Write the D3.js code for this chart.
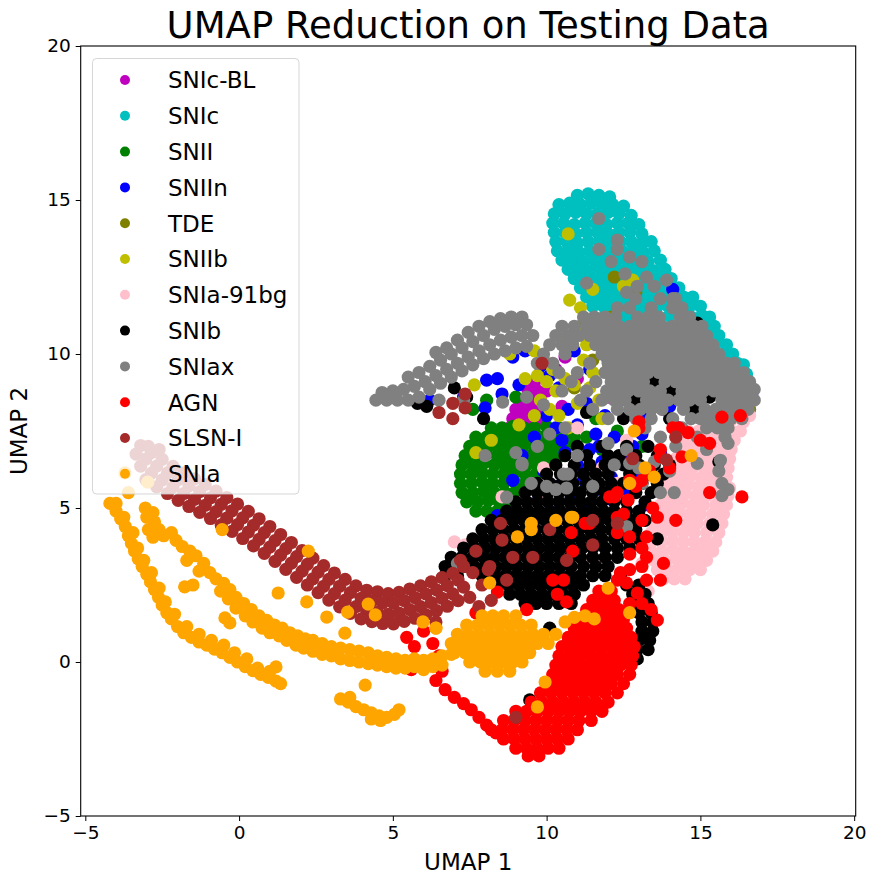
<!DOCTYPE html>
<html>
<head>
<meta charset="utf-8">
<script src="https://cdn.jsdelivr.net/npm/d3@7"></script>
<style>
body { margin: 0; background: #fff; }
text { font-family: "DejaVu Sans", sans-serif; }
</style>
</head>
<body>
<div id="chart"></div>
<script>
// class names in plotting order (later classes are drawn on top)
var classNames = ["SNIc-BL", "SNIc", "SNII", "SNIIn", "TDE", "SNIIb", "SNIa-91bg", "SNIb", "SNIax", "AGN", "SLSN-I", "SNIa"];
var classColors = ["#bf00bf", "#00bfbf", "#008000", "#0000ff", "#808000", "#bfbf00", "#ffc0cb", "#000000", "#808080", "#ff0000", "#a52a2a", "#ffa500"];

var xTicks = [-5, 0, 5, 10, 15, 20];
var yTicks = [-5, 0, 5, 10, 15, 20];

// embedding coordinates, flat [x, y, x, y, ...]
var snIcBL = [8.8,7.6, 9.1,7.5, 9.4,7.6, 8.9,7.9, 9.2,7.9, 9.5,7.9, 9.8,7.8, 9.0,8.2, 9.3,8.2, 9.6,8.2, 9.9,8.1,
  9.2,8.5, 9.5,8.5, 9.8,8.5, 9.4,8.8, 9.7,8.8, 10.0,8.8, 9.6,9.1, 9.9,9.2, 10.3,9.5, 10.6,9.9, 11.4,10.8, 11.6,11.0,
  11.8,10.6, 12.5,10.2, 13.2,9.8, 14.5,9.3, 15.5,9.0, 16.3,8.9, 16.5,8.5, 13.8,8.2, 12.0,8.6, 11.0,9.2, 10.2,7.4, 10.5,8.3];

var snIc = [11.0,15.15, 11.35,15.2, 11.7,15.15, 12.05,15.1,
  10.4,14.85, 10.75,14.9, 11.1,14.85, 11.45,14.9, 11.8,14.85, 12.15,14.85, 12.5,14.8,
  10.25,14.55, 10.6,14.55, 10.95,14.6, 11.3,14.55, 11.65,14.55, 12.0,14.6, 12.35,14.55, 12.75,14.5,
  10.2,14.25, 10.55,14.25, 10.9,14.2, 11.25,14.25, 11.6,14.25, 11.95,14.2, 12.3,14.25, 12.65,14.25, 13.0,14.2,
  10.25,13.95, 10.6,13.95, 10.95,13.9, 11.3,13.95, 11.65,13.95, 12.0,13.9, 12.35,13.95, 12.7,13.95, 13.1,13.9,
  10.3,13.65, 10.65,13.65, 11.0,13.6, 11.35,13.65, 11.7,13.65, 12.05,13.6, 12.4,13.65, 12.75,13.65, 13.1,13.6, 13.4,13.65,
  10.35,13.35, 10.7,13.35, 11.05,13.3, 11.4,13.35, 11.75,13.35, 12.1,13.3, 12.45,13.35, 12.8,13.35, 13.15,13.3, 13.5,13.35,
  10.5,13.05, 10.85,13.05, 11.2,13.0, 11.55,13.05, 11.9,13.05, 12.25,13.0, 12.6,13.05, 12.95,13.05, 13.3,13.0, 13.7,13.05,
  10.7,12.75, 11.05,12.75, 11.4,12.7, 11.75,12.75, 12.1,12.75, 12.45,12.7, 12.8,12.75, 13.15,12.75, 13.5,12.7, 13.85,12.75,
  10.9,12.45, 11.25,12.45, 11.6,12.4, 11.95,12.45, 12.3,12.45, 12.65,12.4, 13.0,12.45, 13.35,12.45, 13.7,12.4, 14.05,12.45,
  11.1,12.15, 11.45,12.15, 11.8,12.1, 12.15,12.15, 12.5,12.15, 12.85,12.1, 13.2,12.15, 13.55,12.15, 13.9,12.1, 14.3,12.15,
  11.3,11.85, 11.65,11.85, 12.0,11.8, 12.35,11.85, 12.7,11.85, 13.05,11.8, 13.4,11.85, 13.75,11.85, 14.1,11.8, 14.45,11.85, 14.75,11.85,
  11.5,11.55, 11.85,11.55, 12.2,11.5, 12.55,11.55, 12.9,11.55, 13.25,11.5, 13.6,11.55, 13.95,11.55, 14.3,11.5, 14.65,11.55, 15.0,11.55,
  11.9,11.25, 12.25,11.25, 12.6,11.2, 12.95,11.25, 13.3,11.25, 13.65,11.2, 14.0,11.25, 14.35,11.25, 14.7,11.2, 15.05,11.25, 15.3,11.2,
  12.3,10.95, 12.65,10.95, 13.0,10.9, 13.35,10.95, 13.7,10.95, 14.05,10.9, 14.4,10.95, 14.75,10.95, 15.1,10.9, 15.45,10.9,
  12.8,10.65, 13.15,10.65, 13.5,10.6, 13.85,10.65, 14.2,10.65, 14.55,10.6, 14.9,10.65, 15.25,10.65, 15.6,10.6,
  13.4,10.35, 13.75,10.35, 14.1,10.3, 14.45,10.35, 14.8,10.35, 15.15,10.3, 15.5,10.35, 15.85,10.3,
  14.0,10.05, 14.35,10.05, 14.7,10.0, 15.05,10.05, 15.4,10.05, 15.75,10.0, 16.05,10.0,
  14.8,9.75, 15.15,9.75, 15.5,9.7, 15.85,9.75, 16.2,9.7, 16.4,9.65,
  15.5,9.45, 15.85,9.45, 16.2,9.4, 16.5,9.35];

var snII = [8.2,7.6, 8.55,7.6, 8.9,7.65, 9.25,7.6, 9.6,7.6, 10.0,7.65, 10.4,7.6,
  7.7,7.3, 8.05,7.3, 8.4,7.35, 8.75,7.3, 9.1,7.3, 9.45,7.35, 9.8,7.3, 10.15,7.3, 10.5,7.35, 10.9,7.3, 11.3,7.3,
  7.5,7.0, 7.85,7.0, 8.2,7.05, 8.55,7.0, 8.9,7.0, 9.25,7.05, 9.6,7.0, 9.95,7.0, 10.3,7.05, 10.65,7.0, 11.0,7.0,
  7.35,6.7, 7.7,6.7, 8.05,6.75, 8.4,6.7, 8.75,6.7, 9.1,6.75, 9.45,6.7, 9.8,6.7, 10.15,6.75, 10.5,6.7,
  7.25,6.4, 7.6,6.4, 7.95,6.45, 8.3,6.4, 8.65,6.4, 9.0,6.45, 9.35,6.4, 9.7,6.4, 10.05,6.45,
  7.2,6.1, 7.55,6.1, 7.9,6.15, 8.25,6.1, 8.6,6.1, 8.95,6.15, 9.3,6.1, 9.65,6.1,
  7.2,5.8, 7.55,5.8, 7.9,5.85, 8.25,5.8, 8.6,5.8, 8.95,5.85, 9.3,5.8,
  7.25,5.5, 7.6,5.5, 7.95,5.55, 8.3,5.5, 8.65,5.5, 9.0,5.55,
  7.4,5.2, 7.75,5.2, 8.1,5.25, 8.45,5.2, 8.8,5.2,
  7.7,4.9, 8.05,4.9, 8.4,4.9,
  7.6,8.2, 8.05,8.5, 9.0,8.6, 11.6,7.9, 12.3,7.5, 16.2,9.1, 15.9,8.1, 13.1,7.0, 15.1,10.6, 11.8,6.9, 10.9,6.2];

var snIIn = [6.2,8.5, 8.05,9.15, 8.0,8.25, 8.4,9.2, 8.55,8.7, 8.9,9.9, 9.3,10.1, 9.8,9.6, 10.1,9.3, 10.4,8.9,
  10.0,8.0, 10.3,7.6, 10.7,8.2, 11.0,7.7, 11.3,8.4, 11.6,7.4, 11.9,8.0, 12.2,7.3, 10.6,6.8, 11.0,6.4, 11.4,6.9,
  11.8,6.5, 12.1,6.0, 12.5,6.6, 11.2,5.9, 11.6,5.6, 10.8,5.3, 11.3,5.0, 10.4,4.9, 12.0,5.3, 12.6,5.6, 12.9,6.2,
  13.1,7.4, 13.3,8.0, 12.7,8.6, 12.3,9.1, 13.6,8.9, 14.0,8.3, 14.3,7.6, 13.7,6.8, 13.2,5.1, 9.6,7.3, 9.2,6.7,
  9.9,6.2, 10.3,5.7, 9.7,5.5, 8.9,5.9, 8.4,4.75, 15.6,9.3, 16.4,8.6, 16.7,8.8, 15.0,8.0, 14.6,9.6, 14.1,12.1,
  12.0,9.8, 11.4,9.5, 10.9,10.1, 7.3,8.6, 9.1,9.0, 10.5,7.2, 11.7,7.0, 12.8,7.0, 10.0,4.8, 11.9,4.7];

var tde = [11.8,10.9, 12.1,11.2, 12.4,10.8, 12.9,12.0, 12.6,10.4, 13.5,9.5, 13.9,9.0, 13.2,9.2, 11.5,9.8,
  14.5,8.7, 15.8,8.5, 16.6,8.2, 10.9,8.9, 12.0,8.8, 14.9,9.9, 13.0,10.6, 11.2,11.0, 12.2,12.5];

var snIIb = [10.7,13.9, 11.5,12.1, 10.75,11.75, 11.1,11.5, 12.8,12.4, 12.5,12.2, 9.1,7.7, 9.6,10.1, 9.9,9.8,
  10.2,9.5, 10.0,9.1, 10.3,8.8, 10.6,9.2, 9.8,8.5, 10.1,8.2, 10.4,8.0, 10.7,7.6, 11.0,8.4, 11.3,10.3, 11.2,9.8,
  11.5,9.4, 11.4,8.9, 11.7,8.5, 11.8,7.9, 12.0,9.5, 12.3,10.0, 11.9,10.8, 12.6,9.0, 13.0,8.3, 13.4,9.9, 10.5,10.4,
  9.3,9.2, 8.8,10.0, 8.2,7.2, 7.7,6.8, 14.0,10.3, 15.0,9.3, 10.9,9.0, 7.65,9.0, 9.7,9.3, 9.6,8.0, 11.1,10.7];

var snIa91bg = [15.3,7.8, 15.65,7.8, 16.0,7.85, 16.4,7.8,
  14.6,7.5, 14.95,7.5, 15.3,7.55, 15.65,7.5, 16.0,7.5, 16.3,7.5,
  14.4,7.2, 14.75,7.2, 15.1,7.25, 15.45,7.2, 15.8,7.2, 16.1,7.2,
  14.3,6.9, 14.65,6.9, 15.0,6.95, 15.35,6.9, 15.7,6.9, 16.0,6.9,
  14.2,6.6, 14.55,6.6, 14.9,6.65, 15.25,6.6, 15.6,6.6, 15.95,6.6,
  14.1,6.3, 14.45,6.3, 14.8,6.35, 15.15,6.3, 15.5,6.3, 15.9,6.3,
  14.0,6.0, 14.35,6.0, 14.7,6.05, 15.05,6.0, 15.4,6.0, 15.85,6.0,
  13.9,5.7, 14.25,5.7, 14.6,5.75, 14.95,5.7, 15.3,5.7, 15.7,5.7, 15.95,5.65,
  13.8,5.4, 14.15,5.4, 14.5,5.45, 14.85,5.4, 15.2,5.4, 15.6,5.4, 15.9,5.4,
  13.7,5.1, 14.05,5.1, 14.4,5.15, 14.75,5.1, 15.1,5.1, 15.5,5.1, 15.85,5.1,
  13.6,4.8, 13.95,4.8, 14.3,4.85, 14.65,4.8, 15.0,4.8, 15.4,4.8, 15.75,4.8,
  13.5,4.5, 13.85,4.5, 14.2,4.55, 14.55,4.5, 14.9,4.5, 15.3,4.5, 15.7,4.5,
  13.4,4.2, 13.75,4.2, 14.1,4.25, 14.45,4.2, 14.8,4.2, 15.2,4.2, 15.6,4.2,
  13.4,3.9, 13.75,3.9, 14.1,3.95, 14.45,3.9, 14.8,3.9, 15.15,3.9, 15.5,3.9,
  13.4,3.6, 13.75,3.6, 14.1,3.65, 14.45,3.6, 14.8,3.6, 15.1,3.6, 15.4,3.6,
  13.5,3.3, 13.85,3.3, 14.2,3.35, 14.55,3.3, 14.9,3.3, 15.2,3.3,
  13.6,3.0, 13.95,3.0, 14.3,3.05, 14.65,3.0, 15.0,3.0,
  13.8,2.7, 14.15,2.7, 14.5,2.7,
  16.3,8.2, 16.6,8.0, 16.5,8.6, 7.55,3.7, 7.9,3.7, 8.3,3.86, 8.95,4.7, 8.55,5.36, 9.85,5.26, 11.0,7.6, 10.9,4.2,
  12.3,5.8, 12.8,4.0, 11.5,3.3, 9.9,6.3, 12.6,7.2, 16.2,8.8, 12.2,1.8, 10.5,2.3, 13.3,2.3, 13.1,3.2, 11.8,6.3,
  12.9,8.8, 14.3,9.2, 7.35,3.8, 7.0,3.9];

var snIb = [11.0,7.0, 11.8,7.0, 12.6,7.0, 13.3,7.0,
  10.6,6.7, 11.3,6.7, 12.0,6.7, 12.35,6.7, 12.9,6.7, 13.6,6.7,
  10.3,6.4, 10.9,6.4, 11.4,6.4, 11.9,6.4, 12.5,6.4, 13.0,6.4, 13.5,6.4, 14.0,6.4,
  10.0,6.1, 10.45,6.1, 10.8,6.1, 11.2,6.1, 11.6,6.1, 12.0,6.1, 12.7,6.1, 13.3,6.1, 13.8,6.1,
  9.7,5.8, 10.1,5.8, 10.5,5.8, 10.85,5.8, 11.3,5.8, 11.7,5.8, 12.1,5.8, 12.5,5.8, 13.1,5.8, 13.6,5.8,
  9.3,5.5, 9.7,5.5, 10.05,5.5, 10.4,5.5, 10.75,5.5, 11.1,5.5, 11.5,5.5, 11.9,5.5, 12.3,5.5, 12.9,5.5, 13.4,5.5,
  9.0,5.2, 9.35,5.2, 9.7,5.2, 10.05,5.2, 10.4,5.2, 10.75,5.2, 11.1,5.2, 11.45,5.2, 11.8,5.2, 12.2,5.2, 12.6,5.2, 13.2,5.2,
  8.7,4.9, 9.05,4.9, 9.4,4.9, 9.75,4.9, 10.1,4.9, 10.45,4.9, 10.8,4.9, 11.15,4.9, 11.5,4.9, 11.85,4.9, 12.2,4.9, 12.6,4.9, 13.0,4.9,
  8.2,4.6, 8.55,4.6, 8.9,4.6, 9.25,4.6, 9.6,4.6, 9.95,4.6, 10.3,4.6, 10.65,4.6, 11.0,4.6, 11.35,4.6, 11.7,4.6, 12.05,4.6, 12.4,4.6, 12.8,4.6, 13.2,4.6,
  7.9,4.3, 8.25,4.3, 8.6,4.3, 8.95,4.3, 9.3,4.3, 9.65,4.3, 10.0,4.3, 10.35,4.3, 10.7,4.3, 11.05,4.3, 11.4,4.3, 11.75,4.3, 12.1,4.3, 12.5,4.3, 12.9,4.3,
  7.6,4.0, 7.95,4.0, 8.3,4.0, 8.65,4.0, 9.0,4.0, 9.35,4.0, 9.7,4.0, 10.05,4.0, 10.4,4.0, 10.75,4.0, 11.1,4.0, 11.45,4.0, 11.8,4.0, 12.2,4.0, 12.6,4.0, 13.0,4.0, 13.6,4.0,
  7.3,3.7, 7.65,3.7, 8.0,3.7, 8.35,3.7, 8.7,3.7, 9.05,3.7, 9.4,3.7, 9.75,3.7, 10.1,3.7, 10.45,3.7, 10.8,3.7, 11.15,3.7, 11.5,3.7, 11.9,3.7, 12.3,3.7, 12.7,3.7,
  6.9,3.4, 7.25,3.4, 7.6,3.4, 7.95,3.4, 8.3,3.4, 8.65,3.4, 9.0,3.4, 9.35,3.4, 9.7,3.4, 10.05,3.4, 10.4,3.4, 10.75,3.4, 11.1,3.4, 11.5,3.4, 11.9,3.4, 12.3,3.4,
  6.7,3.1, 7.0,3.1, 7.3,3.1, 7.65,3.1, 8.0,3.1, 8.35,3.1, 8.7,3.1, 9.05,3.1, 9.4,3.1, 9.75,3.1, 10.1,3.1, 10.45,3.1, 10.8,3.1, 11.2,3.1, 11.6,3.1, 12.0,3.1,
  6.7,2.8, 7.1,2.8, 7.9,2.8, 8.3,2.8, 8.65,2.8, 9.0,2.8, 9.35,2.8, 9.7,2.8, 10.05,2.8, 10.4,2.8, 10.75,2.8, 11.1,2.8, 11.5,2.8, 11.9,2.8, 12.4,2.8,
  8.4,2.5, 8.75,2.5, 9.1,2.5, 9.45,2.5, 9.8,2.5, 10.15,2.5, 10.5,2.5, 10.85,2.5, 11.2,2.5, 12.6,2.5, 13.0,2.5,
  8.8,2.2, 9.15,2.2, 9.5,2.2, 9.85,2.2, 10.2,2.2, 10.55,2.2, 10.9,2.2, 12.8,2.2, 13.2,2.2,
  9.3,1.9, 9.65,1.9, 10.0,1.9, 10.4,1.9, 10.8,1.9, 12.9,1.9, 13.3,1.9,
  13.0,1.6, 13.4,1.6, 13.1,1.3, 13.45,1.3, 13.1,1.0, 13.45,1.0, 13.0,0.7, 13.35,0.7, 12.95,0.4, 13.3,0.4, 12.95,0.1,
  13.0,7.6, 14.0,7.9, 15.1,8.2, 14.5,8.7, 12.5,7.9, 15.6,6.5, 15.4,4.45, 6.1,8.3, 5.8,8.4, 7.0,8.9, 7.4,8.6,
  7.95,7.9, 14.9,11.0, 9.45,-1.23, 10.1,1.1, 13.8,9.5, 12.2,9.9, 11.3,8.1,
  13.5,8.3, 14.6,9.0, 12.4,8.6, 15.3,8.6, 14.05,8.8, 13.5,9.1, 12.9,8.5, 14.8,8.2];

var snIax = [4.45,8.5, 4.8,8.5, 5.15,8.5, 5.5,8.5, 5.85,8.6, 6.2,8.85, 6.55,9.05, 6.9,9.25, 7.25,9.45, 7.6,9.65,
  7.95,9.85, 8.3,10.0, 8.65,10.1, 9.0,10.2, 9.35,10.25,
  4.65,8.75, 5.0,8.8, 5.35,8.85, 5.7,8.95, 6.05,9.1, 6.4,9.3, 6.75,9.5, 7.1,9.7, 7.45,9.9, 7.8,10.1, 8.15,10.3,
  8.5,10.45, 8.85,10.55, 9.2,10.6, 9.55,10.6,
  5.5,9.25, 5.85,9.4, 6.2,9.6, 6.55,9.8, 6.9,10.0, 7.25,10.2, 7.6,10.4, 7.95,10.6, 8.3,10.8, 8.65,10.9, 9.0,10.95, 9.35,10.95,
  6.4,10.05, 6.75,10.2, 7.1,10.45, 7.45,10.7, 7.8,10.9, 8.15,11.05, 8.5,11.15, 8.85,11.2, 9.2,11.2,
  12.9,11.8, 13.7,11.8, 14.1,11.8,
  12.3,11.5, 12.7,11.5, 13.4,11.5, 14.1,11.5, 14.4,11.5,
  11.2,11.2, 11.55,11.2, 11.9,11.2, 12.25,11.2, 12.95,11.2, 13.3,11.2, 13.65,11.2, 14.35,11.2, 14.65,11.2,
  10.5,10.9, 10.9,10.9, 11.3,10.9, 11.65,10.9, 12.0,10.9, 12.35,10.9, 12.7,10.9, 13.05,10.9, 13.4,10.9, 13.75,10.9, 14.1,10.9, 14.45,10.9, 14.8,10.9, 15.05,10.9,
  10.3,10.6, 10.7,10.6, 11.05,10.6, 11.4,10.6, 11.75,10.6, 12.1,10.6, 12.45,10.6, 12.8,10.6, 13.15,10.6, 13.5,10.6, 13.85,10.6, 14.2,10.6, 14.55,10.6, 14.9,10.6, 15.2,10.6,
  10.1,10.3, 10.5,10.3, 10.85,10.3, 11.6,10.3, 11.95,10.3, 12.3,10.3, 12.65,10.3, 13.0,10.3, 13.35,10.3, 13.7,10.3, 14.05,10.3, 14.4,10.3, 14.75,10.3, 15.1,10.3, 15.4,10.3,
  9.9,10.0, 10.6,10.0, 11.8,10.0, 12.15,10.0, 12.5,10.0, 12.85,10.0, 13.2,10.0, 13.55,10.0, 13.9,10.0, 14.25,10.0, 14.6,10.0, 14.95,10.0, 15.3,10.0, 15.6,10.0,
  9.7,9.7, 10.2,9.7, 11.4,9.7, 12.0,9.7, 12.35,9.7, 12.7,9.7, 13.05,9.7, 13.4,9.7, 13.75,9.7, 14.1,9.7, 14.45,9.7, 14.8,9.7, 15.15,9.7, 15.5,9.7, 15.85,9.7, 16.1,9.7,
  10.4,9.4, 11.0,9.4, 11.9,9.4, 12.25,9.4, 12.6,9.4, 12.95,9.4, 13.3,9.4, 13.65,9.4, 14.0,9.4, 14.35,9.4, 14.7,9.4, 15.05,9.4, 15.4,9.4, 15.75,9.4, 16.1,9.4, 16.4,9.4,
  10.8,9.1, 11.6,9.1, 12.1,9.1, 12.45,9.1, 12.8,9.1, 13.15,9.1, 13.85,9.1, 14.2,9.1, 14.55,9.1, 14.9,9.1, 15.25,9.1, 15.6,9.1, 15.95,9.1, 16.3,9.1, 16.6,9.1,
  10.5,8.8, 11.3,8.8, 11.95,8.8, 12.3,8.8, 12.65,8.8, 13.0,8.8, 13.35,8.8, 13.7,8.8, 14.4,8.8, 14.75,8.8, 15.1,8.8, 15.45,8.8, 15.8,8.8, 16.15,8.8, 16.5,8.8, 16.75,8.85,
  11.1,8.5, 11.8,8.5, 12.2,8.5, 12.55,8.5, 13.25,8.5, 13.6,8.5, 13.95,8.5, 14.3,8.5, 14.65,8.5, 15.0,8.5, 15.7,8.5, 16.05,8.5, 16.4,8.5, 16.75,8.5,
  11.5,8.2, 12.3,8.2, 12.7,8.2, 13.05,8.2, 13.4,8.2, 13.75,8.2, 14.45,8.2, 15.15,8.2, 15.5,8.2, 15.85,8.2, 16.2,8.2, 16.55,8.2,
  12.0,7.9, 12.9,7.9, 13.4,7.9, 14.1,7.9, 14.7,7.9, 15.0,7.9, 15.3,7.9, 15.65,7.9, 16.0,7.9, 16.35,7.9,
  13.2,7.6, 14.4,7.6, 15.2,7.6, 15.55,7.6, 15.9,7.6, 13.7,7.3, 14.9,7.3, 15.8,7.3,
  11.7,14.4, 11.7,13.4, 12.3,13.7, 12.3,13.4, 12.1,13.0, 12.7,13.15, 13.1,13.0, 12.55,12.6, 13.25,12.5, 11.3,12.3,
  12.6,12.0, 12.95,12.2, 13.5,12.2, 13.9,12.4, 14.2,11.8,
  12.6,6.9, 13.0,6.3, 13.5,6.5, 14.2,7.0, 15.6,6.2, 15.9,5.6, 15.7,5.8, 15.7,5.4, 15.9,7.1, 15.65,6.55, 15.2,6.9,
  14.9,6.45, 14.0,6.2, 14.15,5.5, 12.6,4.4, 11.5,5.7, 10.65,5.65, 12.2,6.4, 10.7,6.1, 10.0,5.7, 10.3,5.6, 9.0,6.8,
  9.2,6.4, 10.1,7.4, 10.6,7.6, 10.55,6.1, 8.7,5.35, 9.2,6.45, 7.1,3.2, 12.7,6.45, 13.1,5.8, 13.7,5.5, 6.5,8.5,
  7.3,8.5, 8.57,8.44, 9.7,7.0, 11.0,6.7, 12.0,7.1, 9.5,5.8, 8.0,6.7, 9.35,8.6, 9.9,8.35];

var agn = [11.7,2.3, 12.1,2.3,
  11.5,2.0, 11.85,2.0, 12.2,2.0,
  11.3,1.7, 11.65,1.7, 12.0,1.7, 12.35,1.7,
  11.1,1.4, 11.45,1.4, 11.8,1.4, 12.15,1.4, 12.5,1.4,
  10.9,1.1, 11.25,1.1, 11.6,1.1, 11.95,1.1, 12.3,1.1, 12.6,1.1,
  10.7,0.8, 11.05,0.8, 11.4,0.8, 11.75,0.8, 12.1,0.8, 12.45,0.8, 12.75,0.8,
  10.5,0.5, 10.85,0.5, 11.2,0.5, 11.55,0.5, 11.9,0.5, 12.25,0.5, 12.6,0.5, 12.85,0.5,
  10.4,0.2, 10.75,0.2, 11.1,0.2, 11.45,0.2, 11.8,0.2, 12.15,0.2, 12.5,0.2, 12.8,0.2,
  10.3,-0.1, 10.65,-0.1, 11.0,-0.1, 11.35,-0.1, 11.7,-0.1, 12.05,-0.1, 12.4,-0.1, 12.75,-0.1,
  10.2,-0.4, 10.55,-0.4, 10.9,-0.4, 11.25,-0.4, 11.6,-0.4, 11.95,-0.4, 12.3,-0.4, 12.7,-0.4,
  10.0,-0.7, 10.35,-0.7, 10.7,-0.7, 11.05,-0.7, 11.4,-0.7, 11.75,-0.7, 12.1,-0.7, 12.5,-0.7,
  9.8,-1.0, 10.15,-1.0, 10.5,-1.0, 10.85,-1.0, 11.2,-1.0, 11.55,-1.0, 11.9,-1.0, 12.3,-1.0,
  9.5,-1.3, 9.85,-1.3, 10.2,-1.3, 10.55,-1.3, 10.9,-1.3, 11.25,-1.3, 11.6,-1.3, 12.0,-1.3,
  9.0,-1.6, 9.35,-1.6, 9.7,-1.6, 10.05,-1.6, 10.4,-1.6, 10.75,-1.6, 11.1,-1.6, 11.45,-1.6, 11.8,-1.6,
  8.6,-1.9, 8.95,-1.9, 9.3,-1.9, 9.65,-1.9, 10.0,-1.9, 10.35,-1.9, 10.7,-1.9, 11.05,-1.9, 11.45,-1.9,
  8.2,-2.2, 8.55,-2.2, 8.9,-2.2, 9.25,-2.2, 9.6,-2.2, 9.95,-2.2, 10.3,-2.2, 10.65,-2.2, 11.0,-2.2,
  8.6,-2.5, 8.95,-2.5, 9.3,-2.5, 9.65,-2.5, 10.0,-2.5, 10.35,-2.5, 10.7,-2.5,
  9.0,-2.8, 9.35,-2.8, 9.7,-2.8, 10.05,-2.8, 10.4,-2.8, 9.4,-3.05, 9.75,-3.05,
  6.0,1.0, 5.45,0.8, 5.7,0.5, 6.3,0.6, 6.5,0.2, 5.6,-0.25, 6.4,-0.6, 6.7,-0.9, 7.0,-1.15, 7.3,-1.35, 7.55,-1.55,
  7.8,-1.8, 8.05,-2.05, 8.35,-2.3, 6.6,-0.3,
  10.2,2.66, 10.55,2.66, 10.35,2.2, 10.65,1.95, 8.4,2.27, 9.35,1.7, 7.7,1.6, 10.8,4.2, 10.85,3.6, 11.25,4.5,
  12.3,4.2, 12.7,4.06, 12.7,3.5, 13.1,3.7, 13.25,3.4, 12.7,3.0, 13.1,3.1, 12.4,2.9, 12.6,2.57, 12.95,2.24,
  13.1,1.9, 13.4,1.7, 13.6,1.36, 12.7,1.9, 12.3,2.66, 13.25,2.66, 13.7,2.66, 12.2,5.36, 12.65,5.26, 13.1,4.6,
  13.6,4.7, 13.25,4.06, 12.9,5.7, 13.1,5.9, 13.7,6.66, 14.0,6.3, 14.4,6.66, 15.0,7.2, 15.3,7.1, 14.1,7.6,
  13.0,7.6, 13.35,6.2, 15.3,5.5, 14.2,4.6, 13.8,3.2, 12.3,4.7, 12.7,5.9, 13.45,5.0, 11.4,4.5, 15.7,7.95,
  16.35,5.36, 14.3,7.6, 14.6,7.45, 13.0,7.8, 13.7,6.9, 16.3,8.0, 12.05,5.36, 12.5,4.8, 12.3,5.5];

var slsnI = [-3.2,7.03, -2.85,6.8, -2.5,6.58, -2.15,6.35, -1.8,6.14, -1.45,5.95, -1.1,5.76, -0.75,5.55, -0.4,5.34,
  -0.05,5.13, 0.3,4.89, 0.65,4.65, 1.0,4.4, 1.35,4.14, 1.7,3.88, 2.05,3.62, 2.4,3.37, 2.75,3.13, 3.1,2.89,
  3.45,2.68, 3.8,2.47, 4.15,2.33, 4.5,2.28, 4.85,2.22, 5.2,2.26, 5.55,2.37, 5.9,2.47, 6.25,2.6, 6.6,2.74,
  6.95,2.88, 7.3,3.1,
  -3.03,6.59, -2.68,6.36, -2.33,6.14, -1.98,5.92, -1.63,5.72, -1.28,5.53, -0.93,5.33, -0.58,5.12, -0.23,4.91,
  0.12,4.68, 0.47,4.44, 0.82,4.2, 1.17,3.94, 1.52,3.68, 1.87,3.42, 2.22,3.17, 2.57,2.92, 2.92,2.68, 3.27,2.46,
  3.62,2.25, 3.97,2.07, 4.32,1.98, 4.67,1.92, 5.02,1.91, 5.37,1.99, 5.72,2.09, 6.07,2.21, 6.42,2.34, 6.77,2.48,
  7.12,2.66,
  -3.2,6.36, -2.85,6.13, -2.5,5.91, -2.15,5.68, -1.8,5.47, -1.45,5.28, -1.1,5.09, -0.75,4.88, -0.4,4.67,
  -0.05,4.46, 0.3,4.22, 0.65,3.98, 1.0,3.73, 1.35,3.47, 1.7,3.21, 2.05,2.95, 2.4,2.7, 2.75,2.46, 3.1,2.22,
  3.45,2.01, 3.8,1.8, 4.15,1.66, 4.5,1.61, 4.85,1.55, 5.2,1.59, 5.55,1.7, 5.9,1.8, 6.25,1.93, 6.6,2.07,
  6.95,2.21, 7.3,2.43,
  -3.03,5.92, -2.68,5.69, -2.33,5.47, -1.98,5.25, -1.63,5.05, -1.28,4.86, -0.93,4.66, -0.58,4.45, -0.23,4.24,
  0.12,4.01, 0.47,3.77, 0.82,3.53, 1.17,3.27, 1.52,3.01, 1.87,2.75, 2.22,2.5, 2.57,2.25, 2.92,2.01, 3.27,1.79,
  3.62,1.58, 3.97,1.4, 4.32,1.31, 4.67,1.25, 5.02,1.24, 5.37,1.32, 5.72,1.42, 6.07,1.54, 6.42,1.67, 6.77,1.81,
  7.12,1.99,
  7.6,2.9, 7.9,2.5, 7.5,2.1, 8.1,3.0, 7.2,3.3, 7.7,3.6, 8.55,3.96, 8.15,3.1, 8.7,2.66, 8.9,3.4, 8.5,4.5, 9.55,3.4,
  10.1,4.3, 10.65,3.3, 11.5,3.8, 11.5,4.6, 12.3,4.5, 6.5,8.1, 6.95,8.4, 7.35,8.7, 7.35,8.25, 6.95,7.9, 9.85,9.7,
  9.0,-1.8, 14.2,7.3, 12.8,6.6, 13.9,6.56, -3.35,6.75, -2.95,7.0, -2.6,6.9, 7.8,1.8, 8.2,2.0, 6.4,1.3];

var snIa = [-4.2,5.15, -4.0,4.9, -3.85,4.65, -3.7,4.4, -3.6,4.1, -3.5,3.85, -3.4,3.6, -3.28,3.35, -3.15,3.1,
  -3.0,2.85, -2.88,2.6, -2.75,2.35, -2.62,2.1, -2.5,1.85, -2.35,1.6, -2.2,1.4, -2.0,1.15, -1.8,0.95, -1.55,0.8,
  -1.3,0.65, -1.05,0.55, -0.8,0.42, -0.55,0.3, -0.3,0.15, -0.05,0.0, 0.2,-0.15, 0.45,-0.28, 0.7,-0.4, 0.95,-0.5,
  1.2,-0.62, 1.35,-0.7,
  -4.0,5.15, -3.75,4.7, -3.45,4.2, -3.3,3.7, -3.1,3.3, -2.85,2.9, -2.6,2.4, -2.4,1.95, -2.1,1.55, -1.7,1.15,
  -1.3,0.9, -0.9,0.7, -0.5,0.55, -0.15,0.3, 0.25,0.1, 0.6,-0.2, 1.0,-0.3,
  -3.05,5.0, -2.8,4.85, -3.0,4.7, -2.75,4.55, -2.95,4.3, -2.6,4.3, -2.8,4.05, -2.45,4.1, -2.2,4.2, -2.05,3.95,
  -1.85,3.75, -1.6,3.6, -1.7,3.3, -1.4,3.45, -1.15,3.2, -1.3,2.95, -0.95,2.9, -0.75,2.7, -0.5,2.55, -0.6,2.3,
  -0.3,2.35, -0.1,2.1, -0.35,2.05, 0.15,1.9, -0.1,1.75, 0.4,1.7, 0.2,1.5, 0.65,1.5, 0.45,1.3, 0.9,1.35, 0.75,1.1,
  1.15,1.2, 1.0,0.95, 1.4,1.1, 1.3,0.85, 1.65,0.95, 1.55,0.7, 1.9,0.85, 1.85,0.55, 2.15,0.75, 2.1,0.45, 2.4,0.7,
  2.4,0.35, 2.7,0.6, 2.7,0.25, 3.0,0.5, 3.0,0.2, 3.3,0.45, 3.3,0.1, 3.6,0.4, 3.6,0.05, 3.9,0.35, 3.9,0.0, 4.2,0.3,
  4.2,-0.05, 4.5,0.2, 4.5,-0.1, 4.8,0.15, 4.8,-0.15, 5.1,0.1, 5.1,-0.2, 5.4,0.05, 5.4,-0.2, 5.7,0.1, 5.7,-0.15,
  6.0,0.05, 6.0,-0.25, 6.3,0.1, 6.3,-0.15, 6.6,0.2, 6.6,-0.1, 6.9,0.25,
  -1.77,2.44, -1.5,2.5, -0.46,1.43, -0.3,1.27, 1.27,2.24, 2.2,1.95, 2.85,1.46, 3.44,0.94, 3.53,1.62, 4.2,1.88,
  4.43,1.53, 5.98,1.3, 6.4,1.1, 2.25,3.6, -0.55,4.3, 4.1,-0.75, 1.2,-0.16, -3.71,6.14, -2.97,5.84, -3.6,5.5,
  3.3,-1.2, 3.55,-1.3, 3.8,-1.45, 4.05,-1.55, 4.3,-1.65, 4.55,-1.75, 4.8,-1.8, 5.05,-1.7, 5.2,-1.55, 4.6,-1.9,
  4.3,-1.85, 3.6,-1.15,
  7.9,1.5, 8.25,1.5, 8.6,1.5, 9.0,1.5,
  7.4,1.2, 7.75,1.2, 8.1,1.2, 8.45,1.2, 8.8,1.2, 9.15,1.2, 9.5,1.2,
  7.1,0.9, 7.45,0.9, 7.8,0.9, 8.15,0.9, 8.5,0.9, 8.85,0.9, 9.2,0.9, 9.55,0.9, 9.9,0.9, 10.3,0.9,
  6.9,0.6, 7.25,0.6, 7.6,0.6, 7.95,0.6, 8.3,0.6, 8.65,0.6, 9.0,0.6, 9.35,0.6, 9.7,0.6, 10.05,0.6,
  7.0,0.3, 7.35,0.3, 7.7,0.3, 8.05,0.3, 8.4,0.3, 8.75,0.3, 9.1,0.3, 9.45,0.3,
  7.5,0.0, 7.85,0.0, 8.2,0.0, 8.55,0.0, 8.9,0.0, 9.2,0.0,
  8.0,-0.3, 8.4,-0.3, 8.8,-0.3,
  10.6,1.3, 10.9,1.45, 11.25,1.5, 11.55,1.4, 12.0,2.4, 12.7,1.6, 9.7,-1.46, 9.95,-0.65,
  10.3,4.6, 10.85,4.7, 9.05,4.06, 9.5,4.3, 8.15,2.57, 6.4,1.1, 12.85,7.5, 14.7,6.7, 13.2,6.3, 13.5,6.0,
  12.7,5.8, 10.8,4.7, 9.5,4.5];

var classData = [snIcBL, snIc, snII, snIIn, tde, snIIb, snIa91bg, snIb, snIax, agn, slsnI, snIa];

var width = 878,
    height = 885,
    margin = {top: 46, right: 22.3, bottom: 69, left: 80.7};

var svg = d3.select("#chart")
    .append("svg")
    .attr("width", width)
    .attr("height", height);

var x = d3.scaleLinear()
    .domain([-5.15, 20.05])
    .range([margin.left, width - margin.right]);

var y = d3.scaleLinear()
    .domain([-5, 20])
    .range([height - margin.bottom, margin.top]);

function fmt(d) {
    return d < 0 ? "\u2212" + Math.abs(d) : String(d);
}

// points, one group per class, in plotting order
var plot = svg.append("g").attr("class", "points");
classData.forEach(function(arr, k) {
    var pts = d3.range(0, arr.length, 2).map(function(i) { return [arr[i], arr[i + 1]]; });
    plot.append("g")
        .selectAll("circle")
        .data(pts)
        .enter()
        .append("circle")
        .attr("cx", function(d) { return x(d[0]); })
        .attr("cy", function(d) { return y(d[1]); })
        .attr("r", 6.6)
        .style("fill", classColors[k]);
});

// axes
var xAxis = d3.axisBottom(x).tickValues(xTicks).tickFormat(fmt).tickSize(5).tickPadding(5);
var yAxis = d3.axisLeft(y).tickValues(yTicks).tickFormat(fmt).tickSize(5).tickPadding(5);

svg.append("g")
    .attr("transform", "translate(0," + (height - margin.bottom) + ")")
    .call(xAxis)
    .call(function(g) { g.select(".domain").remove(); })
    .selectAll("text")
    .style("font-size", "18.5px")
    .style("font-family", "DejaVu Sans")
    .attr("fill", "#000");

svg.append("g")
    .attr("transform", "translate(" + margin.left + ",0)")
    .call(yAxis)
    .call(function(g) { g.select(".domain").remove(); })
    .selectAll("text")
    .style("font-size", "18.5px")
    .style("font-family", "DejaVu Sans")
    .attr("fill", "#000");

svg.selectAll(".tick line").attr("stroke", "#000").attr("stroke-width", 1);

// frame
svg.append("rect")
    .attr("x", margin.left)
    .attr("y", margin.top)
    .attr("width", width - margin.left - margin.right)
    .attr("height", height - margin.top - margin.bottom)
    .style("fill", "none")
    .style("stroke", "#000")
    .style("stroke-width", 1.1);

// titles
svg.append("text")
    .attr("x", (margin.left + width - margin.right) / 2)
    .attr("y", 37.5)
    .attr("text-anchor", "middle")
    .style("font-size", "37px")
    .text("UMAP Reduction on Testing Data");

svg.append("text")
    .attr("x", (margin.left + width - margin.right) / 2)
    .attr("y", 870)
    .attr("text-anchor", "middle")
    .style("font-size", "23px")
    .text("UMAP 1");

svg.append("text")
    .attr("transform", "translate(27," + ((margin.top + height - margin.bottom) / 2) + ") rotate(-90)")
    .attr("text-anchor", "middle")
    .style("font-size", "23px")
    .text("UMAP 2");

// legend
var legend = svg.append("g").attr("class", "legend");
legend.append("rect")
    .attr("x", 92.5)
    .attr("y", 58.5)
    .attr("width", 206.5)
    .attr("height", 435.5)
    .attr("rx", 4)
    .style("fill", "#fff")
    .style("fill-opacity", 0.8)
    .style("stroke", "#cccccc")
    .style("stroke-opacity", 0.8)
    .style("stroke-width", 1);

var rows = legend.selectAll(".row")
    .data(classNames)
    .enter()
    .append("g")
    .attr("class", "row")
    .attr("transform", function(d, i) { return "translate(0," + (80 + i * 35.8) + ")"; });

rows.append("circle")
    .attr("cx", 125)
    .attr("cy", 0)
    .attr("r", 5)
    .style("fill", function(d, i) { return classColors[i]; });

rows.append("text")
    .attr("x", 168)
    .attr("y", 8.3)
    .style("font-size", "23px")
    .text(function(d) { return d; });
</script>
</body>
</html>
